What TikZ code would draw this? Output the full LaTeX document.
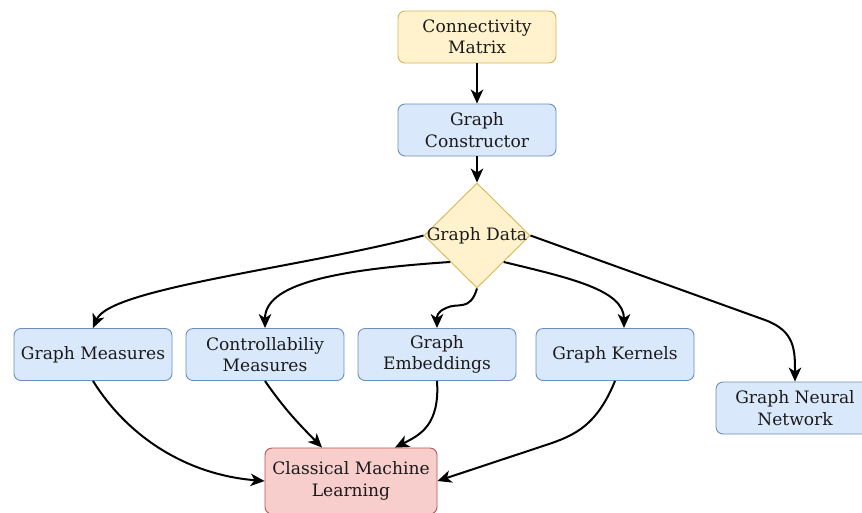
\documentclass[tikz,border=0pt]{standalone}
\usepackage{fontspec}
\setmainfont{DejaVu Serif}
\usetikzlibrary{shapes.geometric,arrows.meta,calc}
\definecolor{yfill}{HTML}{FFF2CC}
\definecolor{ydraw}{HTML}{D6B656}
\definecolor{bfill}{HTML}{DAE8FC}
\definecolor{bdraw}{HTML}{6C8EBF}
\definecolor{rfill}{HTML}{F8CECC}
\definecolor{rdraw}{HTML}{B85450}
\definecolor{txt}{HTML}{1A1A1A}
\tikzset{
  box/.style={rectangle, rounded corners=7pt, minimum width=158pt, minimum height=52pt, inner sep=0pt, align=center, line width=0.9pt, text=txt},
  ybox/.style={box, fill=yfill, draw=ydraw},
  bbox/.style={box, fill=bfill, draw=bdraw},
  rbox/.style={box, fill=rfill, draw=rdraw, minimum width=172pt, minimum height=66pt},
  ydiam/.style={diamond, fill=yfill, draw=ydraw, line width=0.9pt, minimum width=106pt, minimum height=105pt, inner sep=0pt, text=txt},
  arr/.style={-{Stealth[length=14pt,width=12.5pt,inset=4pt]}, line width=2pt, black}
}
\begin{document}
\begin{tikzpicture}[x=1pt,y=-1pt, font=\fontsize{17.1}{21.5}\selectfont]
\useasboundingbox (0,0) rectangle (862,512);
\clip (0,0) rectangle (862,512);
\fill[white] (0,0) rectangle (862,512);

\node[ybox] (cmx) at (477,37) {Connectivity\\Matrix};
\node[bbox] (gc) at (477,130) {Graph\\Constructor};
\node[ydiam] (gd) at (477,235.5) {\raisebox{-1.5pt}{\makebox[0pt]{Graph Data}}};
\node[bbox] (gm) at (93,354.5) {Graph Measures};
\node[bbox] (ctl) at (265,354.5) {Controllabiliy\\Measures};
\node[bbox] (emb) at (437,354.5) {Graph\\Embeddings};
\node[bbox] (ker) at (615,354.5) {Graph Kernels};
\node[bbox] (gnn) at (795,408) {Graph Neural\\Network};
\node[rbox] (cml) at (351,481) {Classical Machine\\Learning};

\draw[arr] (cmx.south) -- (gc.north);
\draw[arr] (gc.south) -- (gd.north);
\draw[arr] (gd.west) .. controls (300,268) and (110,288) .. (gm.north);
\draw[arr] (gd.south west) .. controls (330,270) and (265,285) .. (ctl.north);
\draw[arr] (gd.south) .. controls (470,312) and (458,302) .. (446,308) .. controls (437,312) and (437,316) .. (emb.north);
\draw[arr] (gd.south east) .. controls (570,278) and (624,290) .. ([xshift=9pt]ker.north);
\draw[arr] (gd.east) -- (765,320) .. controls (795,331) and (795,350) .. (gnn.north);

\draw[arr] (gm.south) .. controls (130,440) and (190,475) .. (cml.west);
\draw[arr] (ctl.south) .. controls (285,410) and (300,425) .. ([xshift=-29pt]cml.north);
\draw[arr] (emb.south) .. controls (440,425) and (420,435) .. ([xshift=44pt]cml.north);
\draw[arr] (ker.south) .. controls (595,430) and (570,437) .. (540,447) -- (cml.east);
\end{tikzpicture}
\end{document}
